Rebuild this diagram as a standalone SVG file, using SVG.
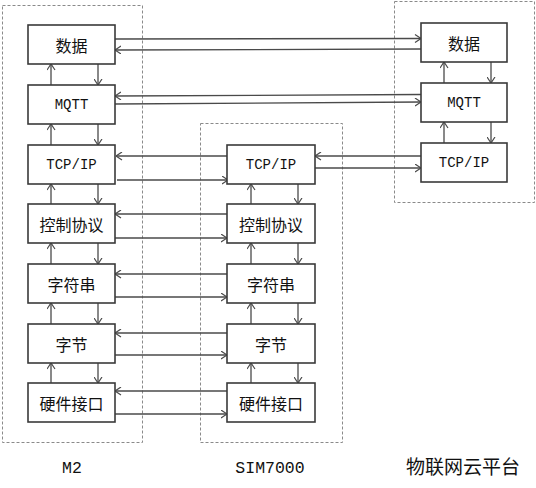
<svg xmlns="http://www.w3.org/2000/svg" width="536" height="488" viewBox="0 0 536 488">
<style>
.grp{fill:none;stroke:#8a8a8a;stroke-width:1;stroke-dasharray:3,2}
.box{fill:#fff;stroke:#3a3a3a;stroke-width:1.6}
.cn{fill:none;stroke:#4a4a4a;stroke-width:1.3;marker-end:url(#ah)}
.t{font-family:"Liberation Mono","Noto Sans CJK SC",monospace;font-size:14px;fill:#111;text-anchor:middle;dominant-baseline:central}
.c{font-family:"Noto Sans CJK SC",sans-serif;font-size:16px;fill:#111;text-anchor:middle;dominant-baseline:central}
.lb{font-family:"Liberation Mono",monospace;font-size:16.5px;fill:#111;text-anchor:middle}
.lc{font-family:"Noto Sans CJK SC",sans-serif;font-size:19px;fill:#111;text-anchor:middle}
</style>
<defs>
<marker id="ah" viewBox="0 0 7 9" refX="6.5" refY="4.5" markerWidth="7" markerHeight="9" markerUnits="userSpaceOnUse" orient="auto">
<path d="M0.5,0.5 L6.5,4.5 L0.5,8.5" fill="none" stroke="#4a4a4a" stroke-width="1.2"/>
</marker>
</defs>
<rect width="536" height="488" fill="#fff"/>
<g id="groups">
<rect class="grp" x="2.5" y="5.5" width="140" height="437"/>
<rect class="grp" x="200.5" y="123.5" width="142" height="319"/>
<rect class="grp" x="394.5" y="1.5" width="140" height="201"/>
</g>
<g id="connectors">
<!-- M2 verticals -->
<line class="cn" x1="51" y1="85" x2="51" y2="64"/>
<line class="cn" x1="98" y1="64" x2="98" y2="85"/>
<line class="cn" x1="51" y1="145" x2="51" y2="124"/>
<line class="cn" x1="98" y1="124" x2="98" y2="145"/>
<line class="cn" x1="51" y1="204" x2="51" y2="184"/>
<line class="cn" x1="98" y1="184" x2="98" y2="204"/>
<line class="cn" x1="51" y1="264" x2="51" y2="243"/>
<line class="cn" x1="98" y1="243" x2="98" y2="264"/>
<line class="cn" x1="51" y1="324" x2="51" y2="303"/>
<line class="cn" x1="98" y1="303" x2="98" y2="324"/>
<line class="cn" x1="51" y1="383" x2="51" y2="363"/>
<line class="cn" x1="98" y1="363" x2="98" y2="383"/>
<!-- SIM verticals -->
<line class="cn" x1="251" y1="204" x2="251" y2="184"/>
<line class="cn" x1="298" y1="184" x2="298" y2="204"/>
<line class="cn" x1="251" y1="264" x2="251" y2="243"/>
<line class="cn" x1="298" y1="243" x2="298" y2="264"/>
<line class="cn" x1="251" y1="324" x2="251" y2="303"/>
<line class="cn" x1="298" y1="303" x2="298" y2="324"/>
<line class="cn" x1="251" y1="383" x2="251" y2="363"/>
<line class="cn" x1="298" y1="363" x2="298" y2="383"/>
<!-- cloud verticals -->
<line class="cn" x1="444" y1="83" x2="444" y2="62"/>
<line class="cn" x1="491" y1="62" x2="491" y2="83"/>
<line class="cn" x1="444" y1="143" x2="444" y2="122"/>
<line class="cn" x1="491" y1="122" x2="491" y2="143"/>
<!-- horizontals -->
<line class="cn" x1="115" y1="39" x2="421" y2="38.5"/>
<line class="cn" x1="421" y1="49" x2="115" y2="50"/>
<line class="cn" x1="421" y1="94.5" x2="115" y2="96"/>
<line class="cn" x1="115" y1="104" x2="421" y2="102"/>
<line class="cn" x1="231" y1="156" x2="116" y2="156"/>
<line class="cn" x1="117" y1="180" x2="228" y2="180"/>
<line class="cn" x1="421" y1="156" x2="315" y2="156"/>
<line class="cn" x1="315" y1="168" x2="421" y2="168"/>
<line class="cn" x1="227" y1="214" x2="115" y2="214"/>
<line class="cn" x1="115" y1="238" x2="227" y2="238"/>
<line class="cn" x1="227" y1="274" x2="115" y2="274"/>
<line class="cn" x1="115" y1="297" x2="227" y2="297"/>
<line class="cn" x1="227" y1="333" x2="115" y2="333"/>
<line class="cn" x1="115" y1="355" x2="227" y2="355"/>
<line class="cn" x1="227" y1="391" x2="115" y2="391"/>
<line class="cn" x1="115" y1="414" x2="227" y2="414"/>
</g>
<g id="m2-data"><rect class="box" x="28" y="25" width="87" height="39"/><text class="c" x="71.5" y="44.5">数据</text></g>
<g id="m2-mqtt"><rect class="box" x="28" y="85" width="87" height="39"/><text class="t" x="71.5" y="104.5">MQTT</text></g>
<g id="m2-tcp"><rect class="box" x="28" y="145" width="87" height="39"/><text class="t" x="71.5" y="164.5">TCP/IP</text></g>
<g id="m2-ctrl"><rect class="box" x="28" y="204" width="87" height="39"/><text class="c" x="71.5" y="223.5">控制协议</text></g>
<g id="m2-str"><rect class="box" x="28" y="264" width="87" height="39"/><text class="c" x="71.5" y="283.5">字符串</text></g>
<g id="m2-byte"><rect class="box" x="28" y="324" width="87" height="39"/><text class="c" x="71.5" y="343.5">字节</text></g>
<g id="m2-hw"><rect class="box" x="28" y="383" width="87" height="39"/><text class="c" x="71.5" y="402.5">硬件接口</text></g>
<g id="sim-tcp"><rect class="box" x="227" y="145" width="88" height="39"/><text class="t" x="271" y="164.5">TCP/IP</text></g>
<g id="sim-ctrl"><rect class="box" x="227" y="204" width="88" height="39"/><text class="c" x="271" y="223.5">控制协议</text></g>
<g id="sim-str"><rect class="box" x="227" y="264" width="88" height="39"/><text class="c" x="271" y="283.5">字符串</text></g>
<g id="sim-byte"><rect class="box" x="227" y="324" width="88" height="39"/><text class="c" x="271" y="343.5">字节</text></g>
<g id="sim-hw"><rect class="box" x="227" y="383" width="88" height="39"/><text class="c" x="271" y="402.5">硬件接口</text></g>
<g id="cloud-data"><rect class="box" x="421" y="23" width="86" height="39"/><text class="c" x="464" y="42.5">数据</text></g>
<g id="cloud-mqtt"><rect class="box" x="421" y="83" width="86" height="39"/><text class="t" x="464" y="102.5">MQTT</text></g>
<g id="cloud-tcp"><rect class="box" x="421" y="143" width="86" height="39"/><text class="t" x="464" y="162.5">TCP/IP</text></g>
<g id="labels">
<text class="lb" x="72" y="473">M2</text>
<text class="lb" x="270" y="473">SIM7000</text>
<text class="lc" x="463" y="474">物联网云平台</text>
</g>
</svg>
